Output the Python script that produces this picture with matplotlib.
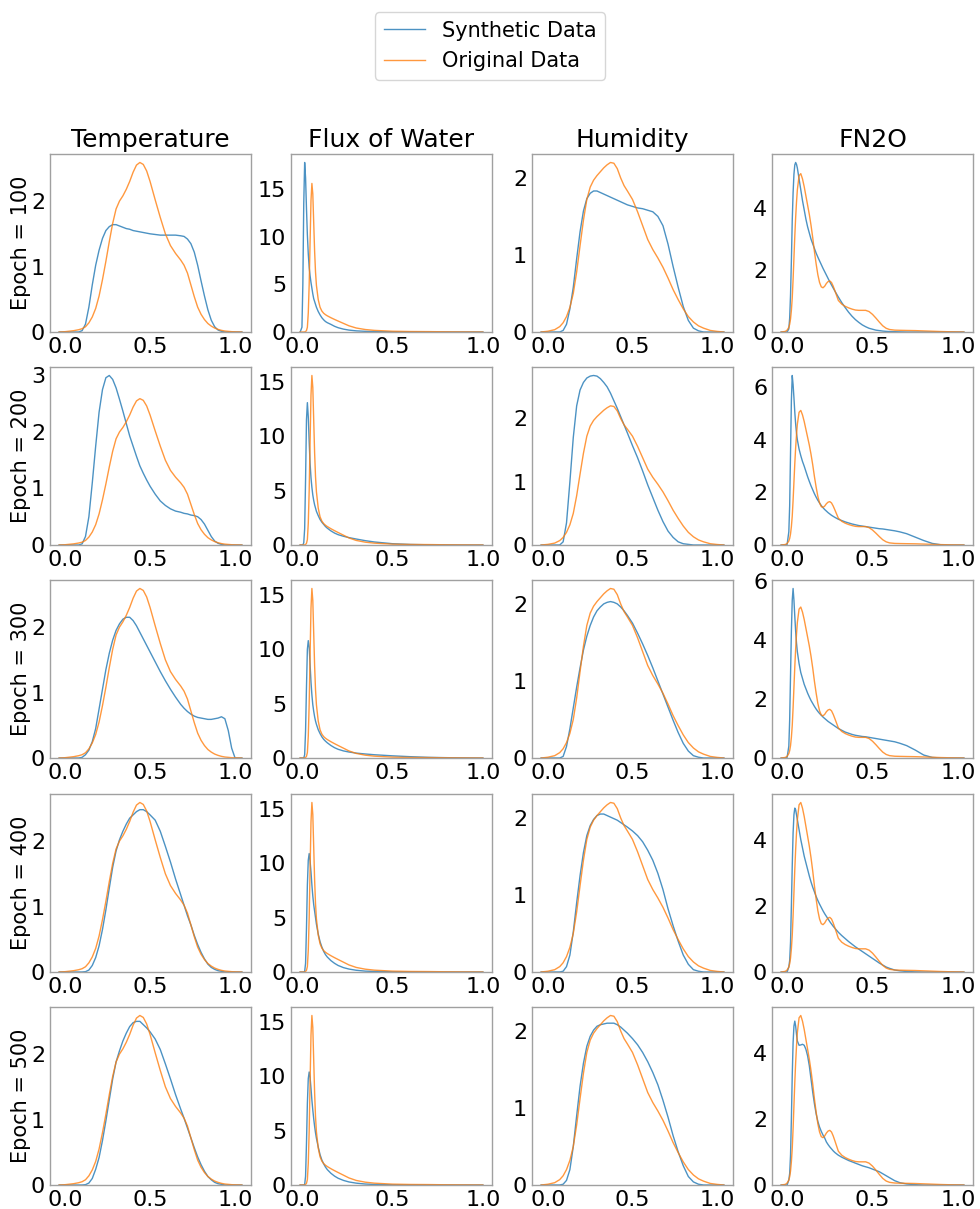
import matplotlib
matplotlib.use("Agg")
import matplotlib.pyplot as plt
from matplotlib.lines import Line2D
from matplotlib.ticker import MultipleLocator

# ---------------------------------------------------------------------------
# Density curves (KDE) of the original data and of the synthetic data
# generated after a given number of training epochs.
# ---------------------------------------------------------------------------
features = ["Temperature", "Flux of Water", "Humidity", "FN2O"]
epochs = [100, 200, 300, 400, 500]

# --- Temperature -----------------------------------------------------------
temp_x = [-0.035, 0.0, 0.05, 0.08, 0.10, 0.12, 0.14, 0.16, 0.18, 0.20,
          0.22, 0.24, 0.26, 0.28, 0.30, 0.32, 0.34, 0.36, 0.38, 0.40,
          0.42, 0.44, 0.46, 0.48, 0.50, 0.53, 0.56, 0.59, 0.62, 0.65,
          0.68, 0.70, 0.72, 0.74, 0.76, 0.78, 0.80, 0.82, 0.84, 0.86,
          0.88, 0.90, 0.92, 0.94, 0.96, 0.98, 1.00, 1.04]
temp_orig = [0, 0.005, 0.02, 0.035, 0.05, 0.08, 0.14, 0.23, 0.36, 0.55,
             0.8, 1.08, 1.38, 1.66, 1.88, 2.0, 2.08, 2.18, 2.3, 2.44,
             2.55, 2.59, 2.56, 2.46, 2.3, 2.02, 1.75, 1.5, 1.32, 1.2,
             1.1, 1.02, 0.9, 0.72, 0.54, 0.38, 0.27, 0.19, 0.13, 0.09,
             0.06, 0.04, 0.025, 0.015, 0.01, 0.005, 0.003, 0]
temp_syn_100 = [0, 0, 0, 0, 0.02, 0.12, 0.38, 0.72, 1.02, 1.25,
                1.43, 1.55, 1.61, 1.64, 1.64, 1.62, 1.6, 1.58, 1.57, 1.55,
                1.54, 1.53, 1.52, 1.51, 1.5, 1.49, 1.48, 1.48, 1.48, 1.48,
                1.47, 1.46, 1.42, 1.35, 1.22, 1.02, 0.78, 0.55, 0.34, 0.18,
                0.08, 0.03, 0.01, 0, 0, 0, 0, 0]
temp_syn_200 = [0, 0, 0, 0, 0.02, 0.15, 0.5, 1.1, 1.75, 2.35,
                2.75, 2.96, 3.0, 2.93, 2.78, 2.58, 2.37, 2.15, 1.93, 1.75,
                1.57, 1.4, 1.27, 1.15, 1.04, 0.9, 0.78, 0.7, 0.64, 0.6,
                0.58, 0.56, 0.55, 0.53, 0.52, 0.5, 0.45, 0.37, 0.26, 0.15,
                0.07, 0.03, 0.01, 0, 0, 0, 0, 0]
temp_syn_300 = [0, 0, 0, 0, 0.01, 0.05, 0.12, 0.25, 0.45, 0.75,
                1.05, 1.35, 1.6, 1.8, 1.95, 2.05, 2.12, 2.15, 2.15, 2.1,
                2.02, 1.92, 1.82, 1.72, 1.62, 1.47, 1.32, 1.18, 1.05, 0.93,
                0.82, 0.76, 0.71, 0.67, 0.64, 0.62, 0.61, 0.6, 0.59, 0.59,
                0.6, 0.61, 0.63, 0.6, 0.42, 0.15, 0, 0]
temp_syn_400 = [0, 0, 0, 0, 0, 0.005, 0.03, 0.1, 0.22, 0.4,
                0.65, 0.95, 1.28, 1.6, 1.85, 2.02, 2.15, 2.26, 2.35, 2.4,
                2.45, 2.48, 2.48, 2.45, 2.4, 2.32, 2.15, 1.92, 1.68, 1.42,
                1.18, 1.02, 0.86, 0.72, 0.56, 0.42, 0.3, 0.2, 0.12, 0.07,
                0.04, 0.02, 0.01, 0, 0, 0, 0, 0]
temp_syn_500 = [0, 0, 0, 0, 0, 0.005, 0.03, 0.1, 0.24, 0.42,
                0.68, 0.98, 1.3, 1.62, 1.88, 2.05, 2.2, 2.32, 2.42, 2.48,
                2.5, 2.5, 2.45, 2.4, 2.34, 2.23, 2.07, 1.85, 1.62, 1.38,
                1.16, 1.02, 0.87, 0.72, 0.57, 0.43, 0.31, 0.21, 0.13, 0.08,
                0.04, 0.02, 0.01, 0, 0, 0, 0, 0]

# --- Flux of Water ---------------------------------------------------------
flux_x = [-0.01, 0.0, 0.005, 0.01, 0.015, 0.02, 0.025, 0.03, 0.035, 0.04,
          0.045, 0.05, 0.055, 0.06, 0.065, 0.07, 0.075, 0.08, 0.09, 0.10,
          0.11, 0.12, 0.13, 0.14, 0.16, 0.18, 0.20, 0.23, 0.26, 0.30,
          0.35, 0.40, 0.50, 0.60, 0.70, 0.80, 0.90, 1.00]
flux_orig = [0, 0, 0, 0, 0.01, 0.05, 0.15, 0.5, 2.0, 5.0,
             9.5, 13.8, 15.6, 14.5, 11.5, 8.5, 6.3, 4.9, 3.4, 2.6,
             2.2, 1.97, 1.82, 1.7, 1.5, 1.32, 1.15, 0.9, 0.65, 0.42,
             0.26, 0.17, 0.08, 0.05, 0.04, 0.02, 0.01, 0]
flux_syn_100 = [0, 0.5, 5.0, 13.5, 17.8, 16.2, 13.0, 10.2, 8.2, 6.8,
                5.9, 5.2, 4.6, 4.0, 3.5, 3.2, 2.9, 2.6, 2.15, 1.8,
                1.5, 1.28, 1.1, 0.98, 0.8, 0.6, 0.45, 0.3, 0.2, 0.12,
                0.07, 0.04, 0.02, 0.01, 0, 0, 0, 0]
flux_syn_200 = [0, 0, 0, 0.2, 1.5, 6.0, 11.5, 13.1, 11.8, 9.5,
                7.5, 6.2, 5.3, 4.6, 4.1, 3.7, 3.4, 3.1, 2.7, 2.35,
                2.1, 1.9, 1.7, 1.55, 1.3, 1.1, 0.95, 0.8, 0.68, 0.55,
                0.4, 0.28, 0.12, 0.05, 0.02, 0.01, 0, 0]
flux_syn_300 = [0, 0, 0, 0, 0.3, 2.5, 6.5, 10.0, 10.8, 10.2,
                8.6, 7.0, 5.8, 4.9, 4.3, 3.8, 3.4, 3.1, 2.6, 2.25,
                1.95, 1.72, 1.55, 1.4, 1.15, 0.95, 0.8, 0.65, 0.55, 0.45,
                0.37, 0.3, 0.2, 0.12, 0.06, 0.03, 0.01, 0]
flux_syn_400 = [0, 0, 0, 0, 0.05, 0.8, 4.0, 8.0, 10.3, 10.9,
                10.2, 9.2, 8.0, 7.0, 6.2, 5.6, 5.0, 4.4, 3.5, 2.8,
                2.3, 1.9, 1.6, 1.38, 1.05, 0.8, 0.6, 0.4, 0.27, 0.16,
                0.08, 0.05, 0.02, 0.01, 0, 0, 0, 0]
flux_syn_500 = [0, 0, 0, 0, 0.05, 0.8, 3.8, 7.5, 9.8, 10.4,
                9.9, 8.9, 7.8, 6.9, 6.1, 5.4, 4.8, 4.3, 3.5, 2.8,
                2.3, 1.95, 1.65, 1.42, 1.08, 0.82, 0.62, 0.42, 0.28, 0.17,
                0.09, 0.05, 0.02, 0.01, 0, 0, 0, 0]

# --- Humidity --------------------------------------------------------------
hum_x = [-0.04, 0.0, 0.04, 0.07, 0.09, 0.11, 0.13, 0.15, 0.17, 0.19,
         0.21, 0.23, 0.25, 0.27, 0.29, 0.31, 0.33, 0.35, 0.37, 0.39,
         0.41, 0.43, 0.45, 0.47, 0.50, 0.53, 0.56, 0.59, 0.62, 0.65,
         0.68, 0.71, 0.74, 0.77, 0.80, 0.83, 0.86, 0.89, 0.92, 0.96,
         1.00, 1.04]
hum_orig = [0, 0.01, 0.03, 0.07, 0.12, 0.2, 0.32, 0.5, 0.78, 1.12,
            1.45, 1.72, 1.88, 1.97, 2.03, 2.08, 2.13, 2.17, 2.2, 2.19,
            2.12, 2.0, 1.9, 1.83, 1.72, 1.56, 1.38, 1.2, 1.07, 0.96,
            0.84, 0.7, 0.55, 0.42, 0.3, 0.2, 0.13, 0.08, 0.05, 0.02,
            0.008, 0]
hum_syn_100 = [0, 0, 0, 0, 0.02, 0.1, 0.3, 0.58, 0.95, 1.3,
               1.57, 1.73, 1.8, 1.83, 1.83, 1.81, 1.79, 1.77, 1.75, 1.73,
               1.71, 1.69, 1.67, 1.65, 1.63, 1.61, 1.6, 1.58, 1.56, 1.5,
               1.38, 1.14, 0.85, 0.58, 0.33, 0.15, 0.05, 0.015, 0, 0,
               0, 0]
hum_syn_200 = [0, 0, 0, 0, 0.05, 0.35, 1.0, 1.7, 2.2, 2.45,
               2.57, 2.64, 2.67, 2.68, 2.67, 2.63, 2.57, 2.5, 2.4, 2.28,
               2.16, 2.03, 1.9, 1.77, 1.57, 1.38, 1.17, 0.95, 0.75, 0.55,
               0.37, 0.22, 0.12, 0.05, 0.02, 0.01, 0, 0, 0, 0,
               0, 0]
hum_syn_300 = [0, 0, 0, 0, 0.02, 0.15, 0.38, 0.65, 0.92, 1.17,
               1.4, 1.58, 1.72, 1.83, 1.91, 1.96, 2.0, 2.02, 2.03, 2.02,
               2.0, 1.96, 1.91, 1.85, 1.75, 1.62, 1.48, 1.33, 1.17, 1.0,
               0.83, 0.66, 0.49, 0.33, 0.19, 0.09, 0.03, 0.01, 0, 0,
               0, 0]
hum_syn_400 = [0, 0, 0, 0, 0.01, 0.07, 0.22, 0.52, 0.9, 1.25,
               1.55, 1.77, 1.9, 1.98, 2.03, 2.05, 2.05, 2.03, 2.01, 1.99,
               1.97, 1.94, 1.91, 1.88, 1.83, 1.77, 1.69, 1.58, 1.45, 1.28,
               1.07, 0.82, 0.6, 0.4, 0.22, 0.1, 0.03, 0.01, 0, 0,
               0, 0]
hum_syn_500 = [0, 0, 0, 0, 0.01, 0.06, 0.2, 0.5, 0.9, 1.28,
               1.58, 1.8, 1.93, 2.01, 2.06, 2.08, 2.09, 2.1, 2.1, 2.1,
               2.08, 2.05, 2.01, 1.97, 1.9, 1.82, 1.72, 1.6, 1.46, 1.3,
               1.1, 0.88, 0.64, 0.43, 0.25, 0.11, 0.04, 0.01, 0, 0,
               0, 0]

# --- FN2O ------------------------------------------------------------------
fn2o_x = [-0.035, -0.01, 0.0, 0.01, 0.015, 0.02, 0.025, 0.03, 0.035, 0.04,
          0.045, 0.05, 0.055, 0.06, 0.07, 0.08, 0.09, 0.10, 0.11, 0.12,
          0.13, 0.14, 0.15, 0.16, 0.17, 0.18, 0.19, 0.20, 0.21, 0.22,
          0.23, 0.24, 0.25, 0.26, 0.27, 0.28, 0.30, 0.32, 0.34, 0.36,
          0.38, 0.40, 0.42, 0.44, 0.46, 0.48, 0.50, 0.52, 0.54, 0.56,
          0.58, 0.60, 0.63, 0.66, 0.70, 0.75, 0.80, 0.85, 0.90, 0.95,
          1.00, 1.035]
fn2o_orig = [0, 0.02, 0.06, 0.15, 0.25, 0.42, 0.7, 1.1, 1.7, 2.4,
             3.1, 3.7, 4.2, 4.6, 5.05, 5.12, 4.95, 4.7, 4.4, 4.1,
             3.8, 3.45, 3.05, 2.6, 2.2, 1.85, 1.6, 1.46, 1.43, 1.48,
             1.57, 1.63, 1.65, 1.6, 1.48, 1.33, 1.02, 0.9, 0.83, 0.78,
             0.74, 0.71, 0.7, 0.7, 0.7, 0.66, 0.57, 0.45, 0.32, 0.2,
             0.12, 0.08, 0.06, 0.055, 0.05, 0.045, 0.035, 0.025, 0.015, 0.008,
             0.004, 0]
fn2o_syn_100 = [0, 0, 0, 0.1, 0.45, 1.2, 2.3, 3.6, 4.5, 5.1,
                5.4, 5.48, 5.42, 5.3, 4.95, 4.6, 4.25, 3.95, 3.65, 3.4,
                3.2, 3.0, 2.85, 2.7, 2.55, 2.42, 2.3, 2.18, 2.06, 1.95,
                1.84, 1.73, 1.62, 1.52, 1.42, 1.32, 1.13, 0.95, 0.79, 0.64,
                0.51, 0.4, 0.31, 0.23, 0.17, 0.12, 0.09, 0.06, 0.045, 0.03,
                0.02, 0.015, 0.01, 0.005, 0, 0, 0, 0, 0, 0,
                0, 0]
fn2o_syn_200 = [0, 0, 0.02, 0.5, 1.5, 3.5, 5.5, 6.45, 6.1, 5.6,
                5.05, 4.6, 4.25, 4.0, 3.65, 3.4, 3.18, 3.0, 2.8, 2.6,
                2.42, 2.25, 2.1, 1.95, 1.82, 1.7, 1.6, 1.5, 1.42, 1.35,
                1.29, 1.23, 1.18, 1.13, 1.09, 1.05, 0.98, 0.93, 0.88, 0.84,
                0.8, 0.77, 0.74, 0.72, 0.7, 0.68, 0.66, 0.64, 0.62, 0.61,
                0.59, 0.57, 0.54, 0.5, 0.43, 0.3, 0.17, 0.06, 0.01, 0,
                0, 0]
fn2o_syn_300 = [0, 0, 0.02, 0.4, 1.3, 2.8, 4.3, 5.35, 5.75, 5.35,
                4.8, 4.3, 3.9, 3.6, 3.2, 2.9, 2.7, 2.5, 2.35, 2.2,
                2.07, 1.95, 1.85, 1.75, 1.66, 1.58, 1.51, 1.45, 1.39, 1.34,
                1.29, 1.24, 1.2, 1.16, 1.12, 1.08, 1.0, 0.94, 0.88, 0.84,
                0.8, 0.77, 0.75, 0.73, 0.72, 0.7, 0.68, 0.66, 0.64, 0.62,
                0.6, 0.58, 0.55, 0.5, 0.42, 0.27, 0.1, 0.02, 0, 0,
                0, 0]
fn2o_syn_400 = [0, 0, 0, 0.15, 0.35, 0.9, 2.0, 3.2, 4.2, 4.75,
                4.95, 4.9, 4.75, 4.6, 4.3, 4.0, 3.75, 3.5, 3.3, 3.1,
                2.9, 2.72, 2.56, 2.42, 2.28, 2.16, 2.05, 1.95, 1.85, 1.76,
                1.68, 1.6, 1.52, 1.45, 1.38, 1.32, 1.2, 1.1, 1.01, 0.92,
                0.84, 0.76, 0.69, 0.62, 0.55, 0.48, 0.41, 0.34, 0.27, 0.21,
                0.15, 0.11, 0.06, 0.035, 0.015, 0.005, 0, 0, 0, 0,
                0, 0]
fn2o_syn_500 = [0, 0, 0, 0.15, 0.35, 0.9, 2.0, 3.3, 4.3, 4.8,
                4.95, 4.8, 4.55, 4.35, 4.22, 4.23, 4.25, 4.22, 4.1, 3.9,
                3.6, 3.2, 2.8, 2.45, 2.15, 1.92, 1.75, 1.62, 1.51, 1.42,
                1.3, 1.22, 1.15, 1.09, 1.03, 0.98, 0.9, 0.84, 0.79, 0.74,
                0.7, 0.66, 0.62, 0.58, 0.55, 0.52, 0.48, 0.44, 0.4, 0.34,
                0.28, 0.22, 0.13, 0.07, 0.03, 0.01, 0, 0, 0, 0,
                0, 0]

# Column-wise grouping used by the plotting loop
grids = [temp_x, flux_x, hum_x, fn2o_x]
originals = [temp_orig, flux_orig, hum_orig, fn2o_orig]
synthetics = [
    [temp_syn_100, temp_syn_200, temp_syn_300, temp_syn_400, temp_syn_500],
    [flux_syn_100, flux_syn_200, flux_syn_300, flux_syn_400, flux_syn_500],
    [hum_syn_100, hum_syn_200, hum_syn_300, hum_syn_400, hum_syn_500],
    [fn2o_syn_100, fn2o_syn_200, fn2o_syn_300, fn2o_syn_400, fn2o_syn_500],
]
y_steps = [1, 5, 1, 2]

# ---------------------------------------------------------------------------
# Figure layout (pixel geometry of the 5 x 4 grid)
# ---------------------------------------------------------------------------
W, H = 980, 1209
fig = plt.figure(figsize=(W / 100, H / 100), dpi=100)

col_left = [50, 291, 532, 772]
row_top = [154, 367, 580, 794, 1007]
ax_w, ax_h = 201, 178

syn_color = "#1f77b4"
orig_color = "#ff7f0e"
line_kw = dict(lw=1.0, alpha=0.8)
spine_color = "#a0a0a0"

for r, ep in enumerate(epochs):
    for c, feat in enumerate(features):
        ax = fig.add_axes([col_left[c] / W, 1 - (row_top[r] + ax_h) / H,
                           ax_w / W, ax_h / H])
        ax.plot(grids[c], synthetics[c][r], color=syn_color, **line_kw)
        ax.plot(grids[c], originals[c], color=orig_color, **line_kw)
        ax.set_ylim(bottom=0)

        ax.xaxis.set_major_locator(MultipleLocator(0.5))
        ax.yaxis.set_major_locator(MultipleLocator(y_steps[c]))
        ax.tick_params(length=0, labelsize=16, pad=3.5)
        for s in ax.spines.values():
            s.set_color(spine_color)
            s.set_linewidth(1.0)

        if r == 0:
            ax.set_title(feat, fontsize=18, pad=5)
        if c == 0:
            ax.set_ylabel(f"Epoch = {ep}", fontsize=15, labelpad=0)

handles = [Line2D([], [], color=syn_color, **line_kw),
           Line2D([], [], color=orig_color, **line_kw)]
fig.legend(handles, ["Synthetic Data", "Original Data"],
           loc="upper center", bbox_to_anchor=(0.5, 1 - 2 / H),
           fontsize=15, frameon=True)

fig.savefig("out.png", dpi=100)
